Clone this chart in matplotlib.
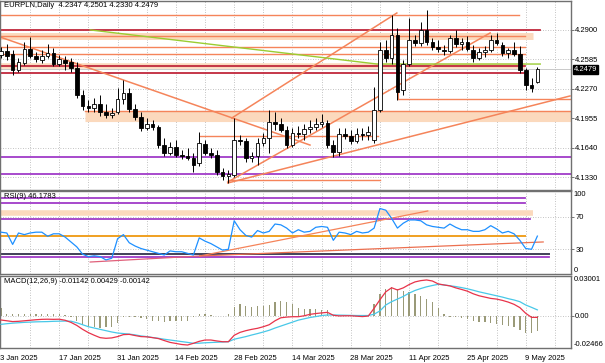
import matplotlib
matplotlib.use("Agg")
import matplotlib.pyplot as plt
import numpy as np

plt.rcParams['font.family'] = ['Liberation Sans', 'DejaVu Sans']
FS = 5.5

# ---- data (daily bars 3 Jan .. 13 May 2025) ----
opens = [4.2633, 4.2675, 4.2643, 4.2472, 4.2547, 4.2697, 4.2622, 4.2579, 4.2622, 4.2654,
         4.2536, 4.2579, 4.2558, 4.2494, 4.2205, 4.2088, 4.2067, 4.2109, 4.2024, 4.1992,
         4.2024, 4.2163, 4.2227, 4.2056, 4.1970, 4.1853, 4.1896, 4.1864, 4.1671, 4.1586,
         4.1650, 4.1565, 4.1554, 4.1533, 4.1479, 4.1682, 4.1586, 4.1565, 4.1383, 4.1340,
         4.1351, 4.1725, 4.1714, 4.1533, 4.1554, 4.1693, 4.1746, 4.1917, 4.1896, 4.1832,
         4.1671, 4.1800, 4.1789, 4.1842, 4.1864, 4.1896, 4.1906, 4.1671, 4.1597, 4.1789,
         4.1768, 4.1714, 4.1789, 4.1778, 4.1725, 4.2045, 4.2686, 4.2601, 4.2846, 4.2259,
         4.2536, 4.2793, 4.2761, 4.2900, 4.2771, 4.2718, 4.2686, 4.2675, 4.2814, 4.2750,
         4.2771, 4.2686, 4.2601, 4.2665, 4.2686, 4.2793, 4.2739, 4.2654, 4.2686, 4.2643,
         4.2472, 4.2312, 4.2347]
highs = [4.2718, 4.2750, 4.2686, 4.2601, 4.2771, 4.2825, 4.2665, 4.2686, 4.2750, 4.2707,
         4.2633, 4.2622, 4.2601, 4.2558, 4.2259, 4.2152, 4.2173, 4.2205, 4.2109, 4.2067,
         4.2280, 4.2366, 4.2280, 4.2109, 4.2024, 4.1960, 4.1938, 4.1885, 4.1746, 4.1703,
         4.1725, 4.1618, 4.1639, 4.1586, 4.1810, 4.1725, 4.1639, 4.1618, 4.1426, 4.1404,
         4.1960, 4.1778, 4.1746, 4.1597, 4.1746, 4.1800, 4.2045, 4.2024, 4.1960, 4.1874,
         4.1853, 4.1874, 4.1896, 4.1938, 4.1960, 4.2002, 4.1938, 4.1725, 4.1853, 4.1853,
         4.1832, 4.1853, 4.1853, 4.1874, 4.2291, 4.2771, 4.2793, 4.3060, 4.2921, 4.2579,
         4.3028, 4.2846, 4.2985, 4.3113, 4.2814, 4.2793, 4.2739, 4.2846, 4.2900, 4.2814,
         4.2836, 4.2739, 4.2707, 4.2729, 4.2846, 4.2868, 4.2771, 4.2707, 4.2771, 4.2729,
         4.2494, 4.2387, 4.2501]
lows = [4.2601, 4.2579, 4.2419, 4.2451, 4.2526, 4.2601, 4.2558, 4.2547, 4.2601, 4.2515,
        4.2515, 4.2472, 4.2451, 4.2173, 4.2045, 4.2024, 4.2024, 4.1981, 4.1960, 4.1960,
        4.2002, 4.2109, 4.2024, 4.1938, 4.1821, 4.1832, 4.1832, 4.1639, 4.1554, 4.1565,
        4.1543, 4.1522, 4.1511, 4.1383, 4.1447, 4.1565, 4.1533, 4.1351, 4.1298, 4.1266,
        4.1330, 4.1671, 4.1490, 4.1490, 4.1458, 4.1661, 4.1586, 4.1832, 4.1810, 4.1639,
        4.1650, 4.1746, 4.1725, 4.1800, 4.1832, 4.1864, 4.1639, 4.1543, 4.1554, 4.1735,
        4.1682, 4.1693, 4.1725, 4.1725, 4.1693, 4.2024, 4.2558, 4.2536, 4.2152, 4.2205,
        4.2515, 4.2729, 4.2729, 4.2739, 4.2686, 4.2665, 4.2633, 4.2654, 4.2718, 4.2686,
        4.2675, 4.2558, 4.2579, 4.2611, 4.2665, 4.2739, 4.2622, 4.2601, 4.2622, 4.2440,
        4.2259, 4.2237, 4.2330]
closes = [4.2675, 4.2622, 4.2472, 4.2558, 4.2697, 4.2622, 4.2590, 4.2622, 4.2654, 4.2536,
          4.2590, 4.2547, 4.2494, 4.2205, 4.2088, 4.2067, 4.2109, 4.2024, 4.1992, 4.2013,
          4.2163, 4.2227, 4.2056, 4.1970, 4.1853, 4.1896, 4.1864, 4.1671, 4.1586, 4.1650,
          4.1565, 4.1554, 4.1533, 4.1458, 4.1693, 4.1586, 4.1565, 4.1383, 4.1340, 4.1362,
          4.1725, 4.1714, 4.1533, 4.1554, 4.1693, 4.1746, 4.1917, 4.1896, 4.1832, 4.1671,
          4.1800, 4.1789, 4.1842, 4.1864, 4.1896, 4.1917, 4.1671, 4.1597, 4.1789, 4.1768,
          4.1714, 4.1789, 4.1778, 4.1810, 4.2045, 4.2686, 4.2601, 4.2846, 4.2237, 4.2536,
          4.2793, 4.2761, 4.2900, 4.2771, 4.2718, 4.2697, 4.2675, 4.2814, 4.2750, 4.2771,
          4.2697, 4.2601, 4.2665, 4.2686, 4.2793, 4.2761, 4.2654, 4.2686, 4.2643, 4.2472,
          4.2312, 4.2280, 4.2479]

rsi = [51, 50, 36, 50, 48, 50, 51, 51, 46, 49, 49, 45, 39, 33, 24, 21, 22, 21, 17, 19,
       43, 48, 38, 34, 31, 29, 27, 25, 23, 28, 27, 27, 25, 23, 44, 40, 37, 33, 29, 30,
       65, 54, 47, 45, 53, 50, 52, 61, 60, 56, 50, 54, 51, 52, 57, 58, 57, 41, 51, 50,
       48, 52, 50, 51, 56, 80, 78, 68, 56, 62, 66, 66, 65, 60, 58, 57, 56, 61, 57, 54,
       54, 52, 52, 54, 59, 55, 50, 52, 49, 41, 31, 30, 46.18]

macd_main = [-0.0034, -0.0040, -0.0046, -0.0044, -0.0040, -0.0036, -0.0032, -0.0029, -0.0028, -0.0029,
             -0.0028, -0.0036, -0.0052, -0.0075, -0.0105, -0.0130, -0.0150, -0.0168, -0.0173, -0.0170,
             -0.0160, -0.0145, -0.0143, -0.0152, -0.0160, -0.0162, -0.0168, -0.0175, -0.0190, -0.0204,
             -0.0212, -0.0220, -0.0224, -0.0211, -0.0196, -0.0186, -0.0186, -0.0193, -0.0199, -0.0199,
             -0.0150, -0.0128, -0.0115, -0.0105, -0.0097, -0.0085, -0.0070, -0.0040, -0.0017, -0.0012,
             -0.0009, -0.0009, -0.0002, 0.0009, 0.0015, 0.0020, 0.0024, 0.0002, -0.0003, -0.0002,
             -0.0002, -0.0005, -0.0008, -0.0004, 0.0055, 0.0120, 0.0180, 0.0211, 0.0194, 0.0210,
             0.0235, 0.0255, 0.0265, 0.0270, 0.0262, 0.0240, 0.0232, 0.0225, 0.0210, 0.0198,
             0.0185, 0.0165, 0.0150, 0.0140, 0.0130, 0.0125, 0.0115, 0.0102, 0.0085, 0.0060,
             0.0017, -0.0014, -0.00142]
macd_signal = [-0.0067, -0.0062, -0.0058, -0.0055, -0.0052, -0.0050, -0.0048, -0.0047, -0.0046, -0.0044,
               -0.0043, -0.0042, -0.0043, -0.0055, -0.0070, -0.0085, -0.0095, -0.0105, -0.0115, -0.0125,
               -0.0133, -0.0137, -0.0141, -0.0147, -0.0155, -0.0160, -0.0167, -0.0173, -0.0180, -0.0186,
               -0.0192, -0.0198, -0.0204, -0.0211, -0.0210, -0.0207, -0.0205, -0.0203, -0.0201, -0.0199,
               -0.0180, -0.0170, -0.0160, -0.0148, -0.0137, -0.0125, -0.0112, -0.0095, -0.0080, -0.0065,
               -0.0050, -0.0035, -0.0025, -0.0015, -0.0008, 0.0000, 0.0004, 0.0004, 0.0003, 0.0002,
               0.0001, 0.0000, 0.0000, 0.0000, 0.0010, 0.0035, 0.0080, 0.0105, 0.0125, 0.0145,
               0.0170, 0.0190, 0.0205, 0.0218, 0.0228, 0.0237, 0.0232, 0.0226, 0.0220, 0.0212,
               0.0203, 0.0192, 0.0180, 0.0170, 0.0160, 0.0150, 0.0140, 0.0128, 0.0118, 0.0105,
               0.0080, 0.0062, 0.00429]
macd_hist = [0.0055, 0.0015, 0.0012, 0.0010, 0.0012, 0.0010, 0.0012, 0.0014, 0.0012, 0.0010,
             0.0008, 0.0005, -0.0010, -0.0045, -0.0070, -0.0085, -0.0090, -0.0092, -0.0088, -0.0090,
             -0.0055, -0.0015, -0.0008, -0.0012, -0.0020, -0.0030, -0.0040, -0.0042, -0.0050, -0.0045,
             -0.0040, -0.0042, -0.0040, -0.0015, 0.0008, 0.0010, 0.0005, -0.0005, -0.0003, 0.0010,
             0.0065, 0.0085, 0.0075, 0.0068, 0.0070, 0.0075, 0.0082, 0.0105, 0.0112, 0.0105,
             0.0085, 0.0058, 0.0052, 0.0050, 0.0046, 0.0040, 0.0040, 0.0002, -0.0005, -0.0005,
             -0.0004, -0.0003, -0.0003, -0.0002, 0.0090, 0.0160, 0.0200, 0.0215, 0.0205, 0.0190,
             0.0175, 0.0160, 0.0145, 0.0125, 0.0100, 0.0060, 0.0015, -0.0010, -0.0015, -0.0020,
             -0.0030, -0.0045, -0.0048, -0.0052, -0.0058, -0.0062, -0.0075, -0.0080, -0.0090, -0.0110,
             -0.0130, -0.0135, -0.01142]

date_labels = ['3 Jan 2025', '17 Jan 2025', '31 Jan 2025', '14 Feb 2025', '28 Feb 2025',
               '14 Mar 2025', '28 Mar 2025', '11 Apr 2025', '25 Apr 2025', '9 May 2025']
price_ticks = [4.2900, 4.2585, 4.2270, 4.1955, 4.1640, 4.1325]
price_tick_labels = ['4.2900', '4.2585', '4.2270', '4.1955', '4.1640', '4.1330']

# drawn objects: horizontal levels (price, from bar, to bar), trend lines ((bar, price), (bar, price))
orange_levels = [(4.3060, -1, 88.9), (4.2840, -1, 89.9), (4.2718, -1, 89.9), (4.2643, -1, 89.9),
                 (4.2163, 68.1, 98), (4.2035, 14.4, 98), (4.1768, 34.1, 64.7), (4.1298, 38.9, 65)]
red_levels = [(4.2900, -1, 92.5), (4.2515, -1, 89.9), (4.2440, -1, 89.9)]
peach_levels = [(4.2840, -1, 91.3, 5), (4.2515, -1, 89.9, 4), (4.1981, 14.4, 98, 8)]
purple_levels = [(4.1543, -1, 98), (4.1362, -1, 98)]
trend_lines = [((-0.17, 4.2825), (53.0, 4.1671)),
               ((39.6, 4.1960), (67.9, 4.3081)),
               ((38.9, 4.1276), (83.9, 4.2868)),
               ((38.9, 4.1266), (97.6, 4.2195))]
green_line = [(15.3, 4.2900), (64.5, 4.2536), (92.5, 4.2536)]

rsi_purple = [(92.6, -1, 89.9), (86.4, -1, 89.9), (67.2, -1, 90.7), (20.2, -1, 94)]
rsi_peach = (74.8, -1, 91.3)
rsi_gold = (46.7, -1, 89.9)
rsi_navy = (24.2, -1, 94)
rsi_trends = [((15.3, 14.4), (34.1, 21.8), '#e0607a'),
              ((34.1, 21.8), (73.2, 77.0), '#f5845a'),
              ((34.1, 21.8), (93.0, 39.0), '#ec7050')]

n = len(closes)
x = np.arange(n)
XL = (-0.17, 97.77)
GRID = dict(color='#b0b0b0', linestyle=(0, (1, 2)), linewidth=0.6)
ORANGE = '#f5845a'
DARKRED = '#c0283c'
PEACH = '#fbd9bd'
PURPLE = '#a03cc8'

fig = plt.figure(figsize=(6.05, 3.63), dpi=100)
ax = fig.add_axes([0, 173/363, 571/605, 189/363])
axr = fig.add_axes([0, 89/363, 571/605, 83/363])
axm = fig.add_axes([0, 15/363, 571/605, 72/363])

for a in (ax, axr, axm):
    a.set_xlim(*XL)
    a.set_xticks(np.arange(0, 100, 5))
    a.tick_params(axis='x', length=0, labelbottom=False)
    a.yaxis.tick_right()
    a.tick_params(axis='y', length=2, width=0.6, color='#606060', labelsize=FS, pad=1)
    for s in a.spines.values():
        s.set_color('#707070')
        s.set_linewidth(1.0)
    for v in range(5, 100, 5):
        a.axvline(v, zorder=0, **GRID)

# ---- main price panel ----
ax.set_ylim(4.1191, 4.3209)
ax.set_yticks(price_ticks)
ax.set_yticklabels(price_tick_labels)
for p in price_ticks:
    ax.axhline(p, zorder=0, **GRID)

for p, a0, a1, w in peach_levels:
    ax.plot([a0, a1], [p, p], color=PEACH, lw=w, solid_capstyle='butt', zorder=1)
for p, a0, a1 in orange_levels:
    ax.plot([a0, a1], [p, p], color=ORANGE, lw=1.0, zorder=2)
for p, a0, a1 in red_levels:
    ax.plot([a0, a1], [p, p], color=DARKRED, lw=1.3, zorder=2)
for p, a0, a1 in purple_levels:
    ax.plot([a0, a1], [p, p], color=PURPLE, lw=1.3, zorder=2)
for (a0, p0), (a1, p1) in trend_lines:
    ax.plot([a0, a1], [p0, p1], color=ORANGE, lw=1.1, zorder=2)
gx, gy = zip(*green_line)
ax.plot(gx, gy, color='#9acd32', lw=1.0, zorder=2)
ax.plot([68.1, 68.1], [4.2163, 4.2536], color=ORANGE, lw=0.8, zorder=2)
ax.axhline(closes[-1], color='#c0c0c0', lw=0.6, zorder=1)

# candles
ax.vlines(x, lows, highs, color='black', lw=0.7, zorder=3)
o = np.array(opens)
c = np.array(closes)
up = c >= o
body_h = np.abs(c - o)
body_h = np.where(body_h < 0.0003, 0.0003, body_h)
ax.bar(x, body_h, bottom=np.minimum(o, c), width=0.62,
       color=np.where(up, 'white', 'black'), edgecolor='black', linewidth=0.6, zorder=4)

ax.text(3 / 5.83, 4.3165, 'EURPLN,Daily  4.2347 4.2501 4.2330 4.2479', fontsize=FS,
        va='center', ha='left', color='black')
ax.text(1.005, closes[-1], '4.2479', transform=ax.get_yaxis_transform(), fontsize=FS,
        va='center', ha='left', color='white',
        bbox=dict(boxstyle='square,pad=0.15', fc='black', ec='black'), clip_on=False)

# ---- RSI panel ----
axr.set_ylim(-0.3, 101.5)
axr.set_yticks([70, 30])
axr.set_yticklabels(['70', '30'])
for lv in (70, 30):
    axr.axhline(lv, zorder=0, **GRID)
axr.text(1.005, 97, '100', transform=axr.get_yaxis_transform(), fontsize=FS, va='center', ha='left')
axr.text(1.005, 4, '0', transform=axr.get_yaxis_transform(), fontsize=FS, va='center', ha='left')
lv, a0, a1 = rsi_peach
axr.plot([a0, a1], [lv, lv], color=PEACH, lw=4, solid_capstyle='butt', zorder=1)
for lv, a0, a1 in rsi_purple:
    axr.plot([a0, a1], [lv, lv], color=PURPLE, lw=1.3, zorder=2)
lv, a0, a1 = rsi_gold
axr.plot([a0, a1], [lv, lv], color='#f0a020', lw=1.4, zorder=2)
lv, a0, a1 = rsi_navy
axr.plot([a0, a1], [lv, lv], color='#404058', lw=1.4, zorder=2)
for (a0, v0), (a1, v1), col in rsi_trends:
    axr.plot([a0, a1], [v0, v1], color=col, lw=0.9, zorder=2)
axr.plot(x, rsi, color='#1e90ff', lw=0.9, zorder=3)
axr.text(3 / 5.83, 95, 'RSI(9) 46.1783', fontsize=FS, va='center', ha='left')

# ---- MACD panel ----
axm.set_ylim(-0.02466, 0.03001)
axm.set_yticks([0.0])
axm.set_yticklabels(['0.00'])
axm.axhline(0.0, zorder=0, **GRID)
axm.text(1.005, 0.03001, '0.03001', transform=axm.get_yaxis_transform(), fontsize=FS, va='top', ha='left')
axm.text(1.005, -0.02466, '-0.02466', transform=axm.get_yaxis_transform(), fontsize=FS,
         va='bottom', ha='left')
axm.bar(x, macd_hist, width=0.22, color='#9a9a78', zorder=2)
axm.plot(x, macd_signal, color='#48c8e8', lw=0.9, zorder=3)
axm.plot(x, macd_main, color='#e8334a', lw=0.9, zorder=4)
axm.text(3 / 5.83, 0.0262, 'MACD(12,26,9) -0.01142 0.00429 -0.00142', fontsize=FS,
         va='center', ha='left')

# date axis
for i, lab in enumerate(date_labels):
    axm.text(i * 10 - 0.1, -0.0325, lab, fontsize=FS, ha='left', va='center', clip_on=False)

fig.savefig('out.png', dpi=100)
